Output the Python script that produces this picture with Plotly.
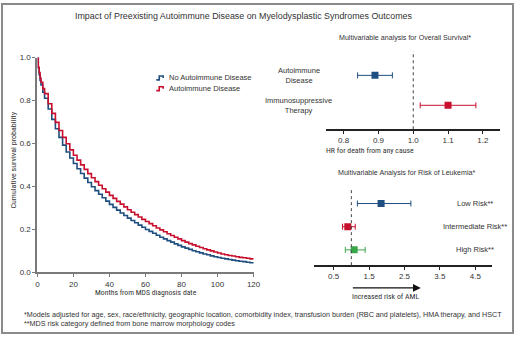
import plotly.graph_objects as go

W, H = 520, 338

# ---------------- data ----------------
months = [0, 0.5, 1, 1.5, 2, 3, 4, 6, 8, 10, 12, 14, 16, 18, 20, 22, 24, 26, 28, 30,
          32, 34, 36, 38, 40, 42, 44, 46, 48, 50, 52, 54, 56, 58, 60, 62, 64, 66, 68, 70,
          72, 74, 76, 78, 80, 82, 84, 86, 88, 90, 92, 94, 96, 98, 100, 102, 104, 106, 108,
          110, 112, 114, 116, 118, 120]
surv_no_ai = [1.000, 0.950, 0.920, 0.893, 0.872, 0.838, 0.810, 0.760, 0.712, 0.668, 0.628,
              0.592, 0.560, 0.532, 0.506, 0.482, 0.460, 0.438, 0.418, 0.398, 0.380, 0.363,
              0.347, 0.331, 0.316, 0.302, 0.289, 0.276, 0.264, 0.252, 0.241, 0.230, 0.219,
              0.209, 0.199, 0.190, 0.181, 0.172, 0.163, 0.155, 0.147, 0.140, 0.132, 0.125,
              0.118, 0.112, 0.106, 0.100, 0.095, 0.090, 0.085, 0.081, 0.076, 0.072, 0.068,
              0.065, 0.062, 0.059, 0.056, 0.053, 0.051, 0.049, 0.046, 0.044, 0.042]
surv_ai = [1.000, 0.955, 0.930, 0.905, 0.885, 0.855, 0.832, 0.785, 0.740, 0.698, 0.660,
           0.628, 0.598, 0.570, 0.545, 0.522, 0.500, 0.479, 0.459, 0.440, 0.422, 0.405,
           0.389, 0.373, 0.358, 0.344, 0.330, 0.317, 0.304, 0.291, 0.279, 0.268, 0.257,
           0.246, 0.236, 0.226, 0.216, 0.206, 0.197, 0.188, 0.179, 0.171, 0.163, 0.155,
           0.147, 0.140, 0.133, 0.127, 0.121, 0.115, 0.109, 0.104, 0.099, 0.094, 0.089,
           0.085, 0.081, 0.078, 0.075, 0.072, 0.069, 0.067, 0.065, 0.062, 0.060]

os_labels = ["Autoimmune<br>Disease", "Immunosuppressive<br>Therapy"]
os_hr = [0.89, 1.10]
os_lo = [0.84, 1.02]
os_hi = [0.94, 1.18]

aml_labels = ["Low Risk**", "Intermediate Risk**", "High Risk**"]
aml_hr = [1.84, 0.90, 1.08]
aml_lo = [1.17, 0.75, 0.83]
aml_hi = [2.68, 1.11, 1.39]

km_xticks = [0, 20, 40, 60, 80, 100, 120]
km_yticks = [0.0, 0.2, 0.4, 0.6, 0.8, 1.0]
os_xticks = [0.8, 0.9, 1.0, 1.1, 1.2]
aml_xticks = [0.5, 1.5, 2.5, 3.5, 4.5]

# ---------------- styles ----------------
BLUE = "#1f4e80"
RED = "#c8102e"
GREEN = "#3aa64a"
TXT = "#333333"
FONT = "Liberation Sans, Arial, sans-serif"
NARROW = "Roboto Condensed, Liberation Sans Narrow, Arial Narrow, Liberation Sans, sans-serif"


def px(x):
    return x / W


def py(y):
    return 1 - y / H


fig = go.Figure()

# KM curves
fig.add_trace(go.Scatter(x=months, y=surv_no_ai, mode="lines", line_shape="hv",
                         line=dict(color=BLUE, width=1.6), xaxis="x", yaxis="y",
                         showlegend=False, hoverinfo="skip"))
fig.add_trace(go.Scatter(x=months, y=surv_ai, mode="lines", line_shape="hv",
                         line=dict(color=RED, width=1.6), xaxis="x", yaxis="y",
                         showlegend=False, hoverinfo="skip"))

# OS forest
os_colors = [BLUE, RED]
for i in range(len(os_labels)):
    fig.add_trace(go.Scatter(
        x=[os_hr[i]], y=[os_labels[i]], mode="markers",
        marker=dict(symbol="square", size=7, color=os_colors[i]),
        error_x=dict(type="data", symmetric=False, array=[os_hi[i] - os_hr[i]],
                     arrayminus=[os_hr[i] - os_lo[i]], color=os_colors[i],
                     thickness=1, width=3),
        xaxis="x2", yaxis="y2", showlegend=False, hoverinfo="skip"))

# AML forest
aml_colors = [BLUE, RED, GREEN]
for i in range(len(aml_labels)):
    fig.add_trace(go.Scatter(
        x=[aml_hr[i]], y=[aml_labels[i]], mode="markers",
        marker=dict(symbol="square", size=7, color=aml_colors[i]),
        error_x=dict(type="data", symmetric=False, array=[aml_hi[i] - aml_hr[i]],
                     arrayminus=[aml_hr[i] - aml_lo[i]], color=aml_colors[i],
                     thickness=1, width=3),
        xaxis="x3", yaxis="y3", showlegend=False, hoverinfo="skip"))

tickfont = dict(family=FONT, size=8, color=TXT)

fig.update_layout(
    width=W, height=H,
    margin=dict(l=0, r=0, t=0, b=0),
    paper_bgcolor="white", plot_bgcolor="white",
    font=dict(family=FONT, color=TXT),
    xaxis=dict(domain=[px(36), px(256)], range=[0, 120], tickvals=km_xticks,
               showgrid=False, zeroline=False, showline=True, linecolor="#7a7a7a",
               linewidth=2, ticks="outside", ticklen=3, tickcolor="#7a7a7a",
               tickfont=tickfont, anchor="y"),
    yaxis=dict(domain=[py(275.5), py(55)], range=[0, 1.0], tickvals=km_yticks,
               tickformat=".1f", showgrid=False, zeroline=False, showline=True,
               linecolor="#7a7a7a", linewidth=2, ticks="outside", ticklen=3,
               tickcolor="#7a7a7a", tickfont=tickfont, anchor="x"),
    xaxis2=dict(domain=[px(330), px(507)], range=[0.75, 1.25], tickvals=os_xticks,
                tickformat=".1f", showgrid=False, zeroline=False, showline=True,
                linecolor="#222222", linewidth=1.5, ticks="outside", ticklen=3,
                tickcolor="#222222", tickfont=tickfont, anchor="y2"),
    yaxis2=dict(domain=[py(128.7), py(45)], type="category",
                categoryorder="array", categoryarray=os_labels[::-1],
                range=[-0.8, 1.92], visible=False, anchor="x2"),
    xaxis3=dict(domain=[px(318), px(499)], range=[-0.04, 4.98], tickvals=aml_xticks,
                tickformat=".1f", showgrid=False, zeroline=False, showline=True,
                linecolor="#222222", linewidth=1.5, ticks="outside", ticklen=3,
                tickcolor="#222222", tickfont=tickfont, anchor="y3"),
    yaxis3=dict(domain=[py(268.3), py(185)], type="category",
                categoryorder="array", categoryarray=aml_labels[::-1],
                range=[-0.66, 2.84], visible=False, anchor="x3"),
    hovermode=False,
)

shapes = []
# outer frame
shapes.append(dict(type="rect", xref="paper", yref="paper", x0=0, x1=1, y0=0, y1=1,
                   line=dict(color="#8a8a8a", width=2), layer="above"))
# reference lines at HR = 1
shapes.append(dict(type="line", xref="x2", yref="y2 domain", x0=1.0, x1=1.0, y0=0,
                   y1=0.96, line=dict(color="#444444", width=1, dash="dot")))
shapes.append(dict(type="line", xref="x3", yref="y3 domain", x0=1.0, x1=1.0, y0=0,
                   y1=0.94, line=dict(color="#444444", width=1, dash="dot")))
# legend step icons
for yy, col in [(76, BLUE), (87, RED)]:
    path = "M {} {} H {} V {} H {} V {}".format(
        px(157), py(yy + 2), px(160), py(yy - 2), px(164), py(yy))
    shapes.append(dict(type="path", xref="paper", yref="paper", path=path,
                       line=dict(color=col, width=1.6)))
fig.update_layout(shapes=shapes)

ann = []


def text(x, y, s, size=7.5, anchor="center", family=FONT, angle=0, color=TXT):
    ann.append(dict(x=px(x), y=py(y), xref="paper", yref="paper", text=s,
                    showarrow=False, xanchor=anchor, yanchor="middle",
                    font=dict(family=family, size=size, color=color), textangle=angle))


text(246, 12, "Impact of Preexisting Autoimmune Disease on Myelodysplastic Syndromes Outcomes",
     size=8.9)
text(12, 160, "Cumulative survival probability", size=8, family=NARROW, angle=-90)
text(147, 296, "Months from MDS diagnosis date", size=7.7, family=NARROW)
text(168, 76, "No Autoimmune Disease", size=7.5, anchor="left")
text(168, 87, "Autoimmune Disease", size=7.5, anchor="left")

text(410, 35, "Multivariable analysis for Overall Survival*", size=7.1)
text(328, 151, "HR for death from any cause", size=7.8, family=NARROW, anchor="left")
text(412, 174, "Multivariable Analysis for Risk of Leukemia*", size=7.1)
text(390, 300, "Increased risk of AML", size=7.8, family=NARROW)

text(20, 319.5, "*Models adjusted for age, sex, race/ethnicity, geographic location, comorbidity index, "
     "transfusion burden (RBC and platelets), HMA therapy, and HSCT", size=7.2, anchor="left")
text(20, 328.5, "**MDS risk category defined from bone marrow morphology codes", size=7.2,
     anchor="left")

fig.update_layout(annotations=ann)

# row labels for forest plots (positioned on the category axes)
for lab in os_labels:
    fig.add_annotation(x=px(302), xref="paper", y=lab, yref="y2", text=lab,
                       showarrow=False, xanchor="center", yanchor="middle",
                       font=dict(family=FONT, size=7.5, color=TXT))
for lab in aml_labels:
    fig.add_annotation(x=px(481), xref="paper", y=lab, yref="y3", text=lab,
                       showarrow=False, xanchor="center", yanchor="middle",
                       font=dict(family=FONT, size=7.5, color=TXT))

# arrow below AML axis
fig.add_annotation(x=2.96, xref="x3", y=py(291.7), yref="paper",
                   ax=1.0, axref="x3", ay=0, ayref="pixel", text="",
                   showarrow=True, arrowhead=2, arrowsize=1.3, arrowwidth=1.2,
                   arrowcolor="#111111")

fig.write_html(
    "out.html",
    config={"displayModeBar": False, "staticPlot": True},
    post_script="document.body.style.margin='0px';"
                "document.body.style.overflow='hidden';"
                "document.documentElement.style.overflow='hidden';",
)
